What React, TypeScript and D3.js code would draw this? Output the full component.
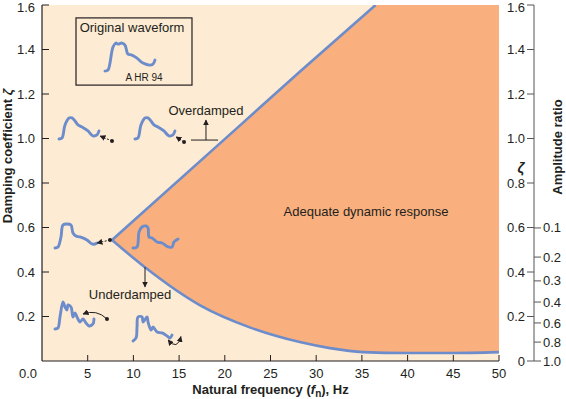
import React from "react";
import * as d3 from "d3";

// axis ticks
const freqTicks = [5, 10, 15, 20, 25, 30, 35, 40, 45, 50];
const zetaTicks = [0.2, 0.4, 0.6, 0.8, 1.0, 1.2, 1.4, 1.6];
const rightZetaTicks = [0, 0.2, 0.4, 0.6, 0.8, 1.0, 1.2, 1.4, 1.6];
const ampRatioLabels = ["0.1", "0.2", "0.3", "0.4", "0.6", "0.8", "1.0"];
const ampRatioZeta = [0.598, 0.467, 0.36, 0.265, 0.171, 0.085, 0.0];

// boundary of the adequate response region
const upperFreq = [7.66, 21.7, 28.2, 36.5];
const upperZeta = [0.544, 1.06, 1.3, 1.6];
const lowerFreq = [7.66, 11.3, 17.3, 22.8, 28.2, 31.5, 35.1, 39.9, 44.6, 50];
const lowerZeta = [0.544, 0.42, 0.25, 0.15, 0.085, 0.058, 0.04, 0.036, 0.036, 0.04];

// little waveform sketches (offsets in px from their start point)
const originalWave: [number, number][] = [[0, 0], [3, -1], [8, -24], [11, -28], [13, -27], [17, -28], [20, -26], [22, -19], [23, -17], [27, -16], [32, -13], [38, -8], [45, -6], [48, -7], [50, -11]];
const overWave: [number, number][] = [[0, 0], [3, -1], [6, -14], [10, -21], [13, -21], [16, -18], [19, -14], [23, -12], [29, -8], [34, -3], [38, -4], [40, -8]];
const adequateWaveA: [number, number][] = [[0, 0], [3, -1], [6, -11], [8, -23], [12, -24], [16, -23], [18, -15], [21, -12], [25, -11], [32, -8], [37, -4], [40, -4], [42, -5]];
const adequateWaveB: [number, number][] = [[0, 0], [4, -1], [6, -16], [9, -21], [13, -22], [15, -20], [16, -11], [19, -10], [24, -6], [29, -5], [35, -1], [39, -1], [41, -6], [45, -9]];
const underWaveA: [number, number][] = [[0, 0], [3, -1], [5, -12], [8, -27], [10, -22], [12, -19], [13, -24], [16, -22], [18, -12], [20, -16], [22, -12], [25, -7], [28, -10], [31, -6], [34, -3], [38, -5], [39, -10]];
const underWaveB: [number, number][] = [[0, 0], [3, -3], [4, -14], [5, -24], [9, -24], [10, -19], [14, -24], [15, -19], [18, -11], [20, -14], [24, -9], [29, -8], [34, -5], [37, -3], [39, -6]];

const BG = "#FDEBD3";
const FILL = "#F9B07E";
const BLUE = "#6C8CCB";
const INK = "#231F20";
const FONT = "'Liberation Sans', Arial, sans-serif";

export default function App() {
  const x = d3.scaleLinear().domain([0, 50]).range([42, 499]);
  const y = d3.scaleLinear().domain([0, 1.6]).range([361, 5]);
  const axisX = 534;
  // keep the top tick label inside the picture
  const labelY = (t: number) => Math.max(y(t), 7);

  const upper = upperFreq.map((f, i) => [x(f), y(upperZeta[i])] as [number, number]);
  const lower = lowerFreq.map((f, i) => [x(f), y(lowerZeta[i])] as [number, number]);

  const smooth = d3.line().curve(d3.curveMonotoneX);
  const straight = d3.line();
  const wave = d3.line().curve(d3.curveCatmullRom.alpha(0.5));

  const lowerPath = smooth(lower) || "";
  const upperPath = straight(upper) || "";
  // region: along lower curve to right edge, up to top, back along upper line
  const regionPath =
    lowerPath +
    `L${x(50)},${y(1.6)}L${upper[upper.length - 1][0]},${upper[upper.length - 1][1]}` +
    upper.slice(0, -1).reverse().map((p) => `L${p[0]},${p[1]}`).join("") +
    "Z";

  const drawWave = (pts: [number, number][], f: number, z: number, key: string) => (
    <path
      key={key}
      d={wave(pts.map(([dx, dy]) => [x(f) + dx, y(z) + dy] as [number, number])) || ""}
      fill="none"
      stroke={BLUE}
      strokeWidth={2.9}
      strokeLinecap="round"
      strokeLinejoin="round"
    />
  );

  const dashArrow = (f0: number, z0: number, f1: number, z1: number, key: string) => (
    <g key={key}>
      <line x1={x(f0)} y1={y(z0)} x2={x(f1)} y2={y(z1)} stroke={INK} strokeWidth={1} strokeDasharray="2,1.5" markerEnd="url(#head)" />
      <circle cx={x(f0)} cy={y(z0)} r={2} fill={INK} />
    </g>
  );

  return (
    <svg width={566} height={399} style={{ position: "absolute", left: 0, top: 0 }} fontFamily={FONT}>
      <defs>
        <marker id="head" viewBox="0 0 10 10" refX="9" refY="5" markerWidth="6" markerHeight="6" markerUnits="userSpaceOnUse" orient="auto">
          <path d="M0,0L10,5L0,10Z" fill={INK} />
        </marker>
        <marker id="headStart" viewBox="0 0 10 10" refX="1" refY="5" markerWidth="6" markerHeight="6" markerUnits="userSpaceOnUse" orient="auto">
          <path d="M10,0L0,5L10,10Z" fill={INK} />
        </marker>
        <clipPath id="plot">
          <rect x={x(0)} y={y(1.6)} width={x(50) - x(0)} height={y(0) - y(1.6)} />
        </clipPath>
      </defs>

      <rect x={x(0)} y={y(1.6)} width={x(50) - x(0)} height={y(0) - y(1.6)} fill={BG} />
      <g clipPath="url(#plot)">
        <path d={regionPath} fill={FILL} />
        <path d={upperPath} fill="none" stroke={BLUE} strokeWidth={2.6} />
        <path d={lowerPath} fill="none" stroke={BLUE} strokeWidth={2.6} />
      </g>

      {/* left axis */}
      <line x1={x(0)} y1={y(1.6)} x2={x(0)} y2={y(0)} stroke={INK} strokeWidth={1.2} />
      {zetaTicks.map((t) => (
        <g key={"ly" + t}>
          <line x1={x(0)} x2={x(0) + 7} y1={y(t)} y2={y(t)} stroke={INK} strokeWidth={1} />
          <text x={35} y={labelY(t)} dy="0.35em" textAnchor="end" fontSize={13} fill={INK}>{t.toFixed(1)}</text>
        </g>
      ))}
      <text x={28} y={373} dy="0.35em" textAnchor="middle" fontSize={13} fill={INK}>0.0</text>

      {/* bottom axis */}
      <line x1={x(0)} y1={y(0)} x2={x(50)} y2={y(0)} stroke={INK} strokeWidth={1.2} />
      {freqTicks.map((t) => (
        <g key={"bx" + t}>
          <line x1={x(t)} x2={x(t)} y1={y(0)} y2={y(0) - 6} stroke={INK} strokeWidth={1} />
          <text x={x(t)} y={373} dy="0.35em" textAnchor="middle" fontSize={13} fill={INK}>{t}</text>
        </g>
      ))}
      <text x={(x(0) + x(50)) / 2} y={394} textAnchor="middle" fontSize={13} fontWeight="bold" fill={INK}>
        Natural frequency (<tspan fontStyle="italic">f</tspan>
        <tspan fontSize={10} dy={3}>n</tspan>
        <tspan dy={-3}>), Hz</tspan>
      </text>
      <text transform={`translate(12,156) rotate(-90)`} textAnchor="middle" fontSize={13} fontWeight="bold" fill={INK}>
        Damping coefficient <tspan fontStyle="italic">ζ</tspan>
      </text>

      {/* right axis: zeta and amplitude ratio */}
      <line x1={axisX} x2={axisX} y1={y(1.6)} y2={y(0)} stroke="#555" strokeWidth={1} />
      {rightZetaTicks.map((t) => (
        <g key={"rz" + t}>
          <line x1={axisX - 7} x2={axisX} y1={y(t)} y2={y(t)} stroke="#555" strokeWidth={1} />
          <text x={525} y={labelY(t)} dy="0.35em" textAnchor="end" fontSize={13} fill={INK}>{t === 0 ? "0" : t.toFixed(1)}</text>
        </g>
      ))}
      <text x={521} y={168} dy="0.35em" textAnchor="middle" fontSize={14} fontStyle="italic" fontWeight="bold" fill={INK}>ζ</text>
      {ampRatioLabels.map((l, i) => (
        <g key={"ar" + l}>
          <line x1={axisX} x2={axisX + 7} y1={y(ampRatioZeta[i])} y2={y(ampRatioZeta[i])} stroke="#555" strokeWidth={1} />
          <text x={543} y={y(ampRatioZeta[i])} dy="0.35em" textAnchor="start" fontSize={13} fill={INK}>{l}</text>
        </g>
      ))}
      <text transform={`translate(562,147) rotate(-90)`} textAnchor="middle" fontSize={13} fontWeight="bold" fill={INK}>
        Amplitude ratio
      </text>

      {/* inset */}
      <rect x={x(3.72)} y={y(1.542)} width={x(16.41) - x(3.72)} height={y(1.24) - y(1.542)} fill="none" stroke={INK} strokeWidth={1.2} />
      <text x={x(9.85)} y={y(1.497)} dy="0.35em" textAnchor="middle" fontSize={13} fill={INK}>Original waveform</text>
      {drawWave(originalWave, 6.89, 1.303, "orig")}
      <text x={x(11.16)} y={y(1.272)} dy="0.35em" textAnchor="middle" fontSize={10} fill={INK}>A HR 94</text>

      {/* overdamped */}
      {drawWave(overWave, 1.86, 0.998, "ov1")}
      {drawWave(overWave, 10.17, 0.998, "ov2")}
      {dashArrow(7.66, 0.989, 6.35, 1.011, "oa1")}
      {dashArrow(15.54, 0.984, 14.66, 1.007, "oa2")}
      <line x1={x(16.3)} x2={x(19.26)} y1={y(0.993)} y2={y(0.993)} stroke={INK} strokeWidth={1} />
      <line x1={x(17.94)} x2={x(17.94)} y1={y(0.993)} y2={y(1.083)} stroke={INK} strokeWidth={1} markerEnd="url(#head)" />
      <text x={x(17.94)} y={y(1.128)} dy="0.35em" textAnchor="middle" fontSize={13} fill={INK}>Overdamped</text>

      {/* adequate */}
      {drawWave(adequateWaveA, 1.42, 0.508, "ad1")}
      {drawWave(adequateWaveB, 9.96, 0.508, "ad2")}
      {dashArrow(7.44, 0.544, 6.02, 0.53, "aa1")}
      <text x={x(35.45)} y={y(0.67)} dy="0.35em" textAnchor="middle" fontSize={13} fill={INK}>Adequate dynamic response</text>

      {/* underdamped */}
      {drawWave(underWaveA, 1.42, 0.144, "ud1")}
      {drawWave(underWaveB, 9.96, 0.09, "ud2")}
      <line x1={x(11.27)} x2={x(11.27)} y1={y(0.422)} y2={y(0.333)} stroke={INK} strokeWidth={1} markerEnd="url(#head)" />
      <text x={x(9.63)} y={y(0.297)} dy="0.35em" textAnchor="middle" fontSize={13} fill={INK}>Underdamped</text>
      <path
        d={`M${x(7.11)},${y(0.189)}Q${x(5.97)},${y(0.234)} ${x(4.49)},${y(0.211)}`}
        fill="none" stroke={INK} strokeWidth={1} markerEnd="url(#head)"
      />
      <circle cx={x(7.11)} cy={y(0.189)} r={2} fill={INK} />
      <path
        d={`M${x(13.8)},${y(0.095)}Q${x(14.8)},${y(0.045)} ${x(15.2)},${y(0.11)}`}
        fill="none" stroke={INK} strokeWidth={1} markerStart="url(#headStart)" markerEnd="url(#head)"
      />
    </svg>
  );
}
